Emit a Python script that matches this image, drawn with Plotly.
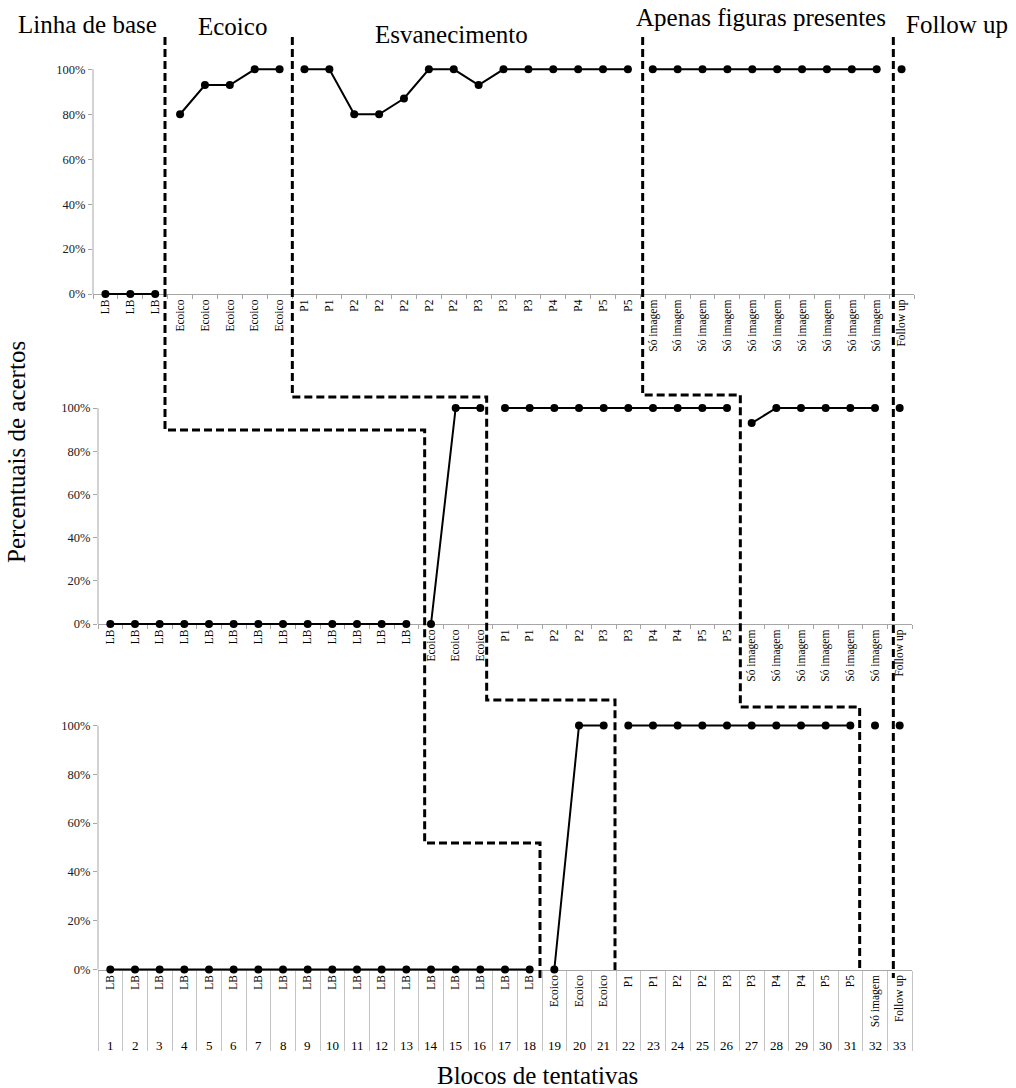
import plotly.graph_objects as go

# ---------- Data
blocks = list(range(1, 34))

labels_top = (["LB"] * 3 + ["Ecoico"] * 5
              + ["P1", "P1", "P2", "P2", "P2", "P2", "P2", "P3", "P3", "P3", "P4", "P4", "P5", "P5"]
              + ["Só imagem"] * 10 + ["Follow up"])
values_top = [0, 0, 0,
              80, 93, 93, 100, 100,
              100, 100, 80, 80, 87, 100, 100, 93, 100, 100, 100, 100, 100, 100,
              100, 100, 100, 100, 100, 100, 100, 100, 100, 100,
              100]

labels_mid = (["LB"] * 13 + ["Ecoico"] * 3
              + ["P1", "P1", "P2", "P2", "P3", "P3", "P4", "P4", "P5", "P5"]
              + ["Só imagem"] * 6 + ["Follow up"])
values_mid = [0, 0, 0, 0, 0, 0, 0, 0, 0, 0, 0, 0, 0,
              0, 100, 100,
              100, 100, 100, 100, 100, 100, 100, 100, 100, 100,
              93, 100, 100, 100, 100, 100,
              100]

labels_bot = (["LB"] * 18 + ["Ecoico"] * 3
              + ["P1", "P1", "P2", "P2", "P3", "P3", "P4", "P4", "P5", "P5"]
              + ["Só imagem"] + ["Follow up"])
values_bot = [0, 0, 0, 0, 0, 0, 0, 0, 0, 0, 0, 0, 0, 0, 0, 0, 0, 0,
              0, 100, 100,
              100, 100, 100, 100, 100, 100, 100, 100, 100, 100,
              100,
              100]

phase_titles = ["Linha de base", "Ecoico", "Esvanecimento", "Apenas figuras presentes", "Follow up"]
y_ticks = [0, 20, 40, 60, 80, 100]
y_tick_text = ["0%", "20%", "40%", "60%", "80%", "100%"]

# ---------- Layout constants (pixel positions on the 1016x1088 page)
W, H = 1016, 1088
FONT = "Liberation Serif"
GRAY = "#a6a6a6"
panel_x_px = [(93, 914), (98, 912), (98, 912)]            # plot left / right
panel_px = [(69.3, 294), (408, 624), (725.5, 969.5)]       # (100% row, 0% row)
title_px = [(87, 24), (232, 27), (451, 34), (761, 17), (957, 24)]
# phase-change lines: vertical position of the staircase steps,
# small hand-drawn horizontal nudges (px) per panel, top and bottom ends
step_px = [(430, 843), (397, 700), (395, 707), (None, None)]
nudge_px = [(-7, 6, -2), (-3, -6, -1), (2, 1, -3), (6, 6, 6)]
line_top, line_end = 37, [978, 970, 970, 978]


def px_x(px):
    return px / W


def px_y(px):
    return 1 - px / H


def phase(label):
    return "P" if label.startswith("P") else label


def ax_id(n):
    return "" if n == 1 else str(n)


unit_px = (panel_x_px[2][1] - panel_x_px[2][0]) / len(blocks)
panels = [(labels_top, values_top), (labels_mid, values_mid), (labels_bot, values_bot)]
boundaries = []
shapes = []
fig = go.Figure()
layout = dict(width=W, height=H, margin=dict(l=0, r=0, t=0, b=0),
              template="none", plot_bgcolor="white", paper_bgcolor="white",
              showlegend=False, font=dict(family=FONT, color="black"))

for i, (labels, values) in enumerate(panels, start=1):
    # break the line at each phase change
    xs, ys, cuts, prev = [], [], [], None
    for b, lab, v in zip(blocks, labels, values):
        if prev is not None and phase(lab) != prev:
            xs.append(None)
            ys.append(None)
            cuts.append(b - 0.5)
        xs.append(b)
        ys.append(v)
        prev = phase(lab)
    boundaries.append(cuts)

    xi = ax_id(i)
    fig.add_trace(go.Scatter(
        x=xs, y=ys, mode="lines+markers",
        line=dict(color="black", width=2),
        marker=dict(color="black", size=8),
        cliponaxis=False,
        xaxis="x" + xi, yaxis="y" + xi,
        hovertemplate="%{y}%<extra></extra>"
    ))

    p_top, p_bot = panel_px[i - 1]
    y0, y1 = px_y(p_bot), px_y(p_top)
    pad = 0.05 * (y1 - y0)   # a little room so lines at 0% / 100% are not clipped
    bottom = i == 3
    xl, xr = panel_x_px[i - 1]
    layout["xaxis" + xi] = dict(
        domain=[px_x(xl), px_x(xr)], range=[0.5, 33.5], anchor="free", position=y0,
        tickmode="array", tickvals=blocks, ticktext=labels, tickangle=-90,
        ticks="", layer="below traces",
        tickfont=dict(family=FONT, size=11.5, color="black"),
        showline=True, linecolor=GRAY, linewidth=1,
        showgrid=False, zeroline=False,
        minor=dict(tick0=0.5, dtick=1, ticks="outside",
                   ticklen=80 if bottom else 4,
                   tickcolor="#c4c4c4" if bottom else GRAY, tickwidth=1, showgrid=False)
    )
    layout["yaxis" + xi] = dict(
        domain=[y0 - pad, y1 + pad], range=[-5, 105], anchor="x" + xi,
        tickmode="array", tickvals=y_ticks, ticktext=y_tick_text,
        ticks="outside", ticklen=4, tickcolor=GRAY, layer="below traces",
        tickfont=dict(family=FONT, size=12.5, color="#1a1a1a"),
        showline=False, showgrid=False, zeroline=False
    )
    # y axis line from 0% to 100%
    shapes.append(dict(type="line", xref=f"x{xi} domain", yref="y" + xi,
                       x0=0, x1=0, y0=y_ticks[0], y1=y_ticks[-1],
                       line=dict(color=GRAY, width=1), layer="below"))

# ---------- Phase-change lines (staircase across the three panels)
for k in range(len(step_px)):
    xa, xb, xc = [boundaries[p][k] + nudge_px[k][p] / unit_px for p in range(3)]
    s1, s2 = step_px[k]
    if s1 is None:
        pts = [(xa, line_top), (xc, line_end[k])]
    else:
        pts = [(xa, line_top), (xa, s1), (xb, s1), (xb, s2), (xc, s2), (xc, line_end[k])]
    path = "M " + " L ".join(f"{x:.4f},{px_y(p):.5f}" for x, p in pts)
    shapes.append(dict(type="path", path=path, xref="x3", yref="paper",
                       line=dict(color="black", width=3, dash="8px,4px")))
layout["shapes"] = shapes

# ---------- Text
annotations = []
for b in blocks:
    annotations.append(dict(text=str(b), x=b, y=px_y(1045), xref="x3", yref="paper",
                            showarrow=False, xanchor="center", yanchor="middle",
                            font=dict(family=FONT, size=13, color="black")))
for t, (cx, cy) in zip(phase_titles, title_px):
    annotations.append(dict(text=t, x=px_x(cx), y=px_y(cy), xref="paper", yref="paper",
                            showarrow=False, xanchor="center", yanchor="middle",
                            font=dict(family=FONT, size=25, color="black")))
annotations.append(dict(text="Percentuais de acertos", x=px_x(16), y=px_y(452),
                        xref="paper", yref="paper", showarrow=False, textangle=-90,
                        xanchor="center", yanchor="middle",
                        font=dict(family=FONT, size=25, color="black")))
annotations.append(dict(text="Blocos de tentativas", x=px_x(537), y=px_y(1075),
                        xref="paper", yref="paper", showarrow=False,
                        xanchor="center", yanchor="middle",
                        font=dict(family=FONT, size=25, color="black")))
layout["annotations"] = annotations

fig.update_layout(**layout)
# the page's default 8px body margin would push the figure off the window
fig.write_html("out.html", config={"displayModeBar": False},
               post_script="document.body.style.margin = '0px';")
